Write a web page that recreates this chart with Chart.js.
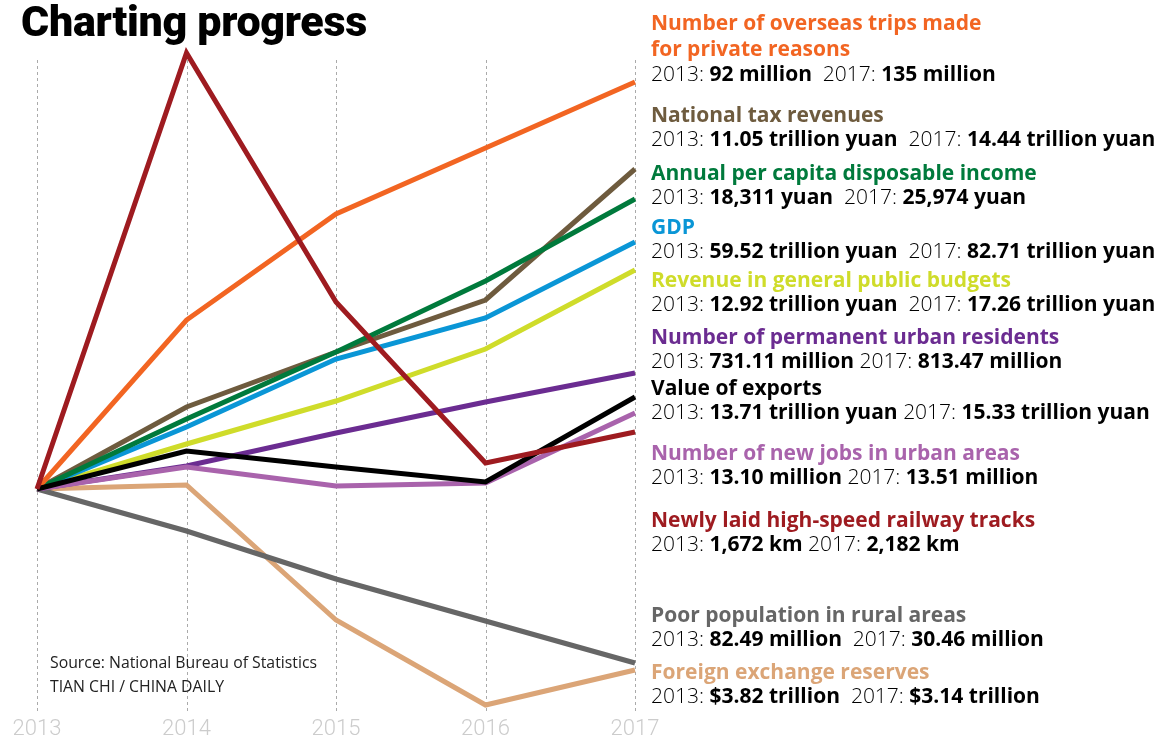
<!DOCTYPE html>
<html>
<head>
<meta charset="utf-8">
<script src="https://cdn.jsdelivr.net/npm/chart.js@4.4.1/dist/chart.umd.min.js"></script>
<style>
  html, body { margin: 0; padding: 0; background: #fff; }
  #wrap { position: relative; width: 1159px; height: 740px; overflow: hidden; font-family: "Open Sans", Roboto, sans-serif; }
  canvas { position: absolute; left: 0; top: 0; }
  .title { position: absolute; left: 21px; top: -4px; font-family: Roboto, sans-serif; font-weight: 900; font-size: 43px; letter-spacing: -0.3px; color: #000; line-height: 50px; }
  .lbl { position: absolute; left: 651px; font-size: 21px; line-height: 24px; white-space: nowrap; font-family: "Open Sans", sans-serif; letter-spacing: 0px; }
  .lbl .h { font-weight: 700; }
  .lbl .v { color: #000; font-weight: 300; }
  .lbl .v b { font-weight: 700; }
  .src { position: absolute; left: 50px; font-size: 15.8px; line-height: 24px; color: #222; font-weight: 400; font-family: "Open Sans", sans-serif; letter-spacing: 0px; }
</style>
</head>
<body>
<div id="wrap">
  <canvas id="c" width="1159" height="740"></canvas>
  <div class="title">Charting progress</div>
  <div id="labels"></div>
  <div class="src" style="top:650px">Source: National Bureau of Statistics</div>
  <div class="src" style="top:674px">TIAN CHI / CHINA DAILY</div>
</div>
<script>
// Categories (years)
const years = ["2013", "2014", "2015", "2016", "2017"];

// Relative change index (2013 = 0 baseline, arbitrary units)
const overseasTrips   = [0, 169, 275, 341, 407];
const taxRevenue      = [0, 82, 137, 189, 320];
const disposableInc   = [0, 70, 137, 208, 290];
const gdp             = [0, 62, 130, 171, 247];
const budgetRevenue   = [0, 45, 88, 140, 219];
const urbanResidents  = [0, 23, 56, 87, 116];
const exportsValue    = [0, 38, 22, 7, 92];
const newJobs         = [0, 22, 3, 6, 76];
const railwayTracks   = [0, 436, 187, 26, 57];
const poorPopulation  = [0, -42, -90, -132, -174];
const forexReserves   = [0, 4, -131, -216, -181];

// Series names, colours and the 2013 / 2017 figures
const seriesNames = [
  "Number of overseas trips made\nfor private reasons",
  "National tax revenues",
  "Annual per capita disposable income",
  "GDP",
  "Revenue in general public budgets",
  "Number of permanent urban residents",
  "Value of exports",
  "Number of new jobs in urban areas",
  "Newly laid high-speed railway tracks",
  "Poor population in rural areas",
  "Foreign exchange reserves"
];
const seriesColors = ["#f26522", "#6e5b3e", "#007a3c", "#0a96d6", "#cfdc2a", "#6b2c91", "#000000", "#a963ac", "#9e1b20", "#666666", "#dba577"];
const values2013 = ["92 million", "11.05 trillion yuan", "18,311 yuan", "59.52 trillion yuan", "12.92 trillion yuan", "731.11 million", "13.71 trillion yuan", "13.10 million", "1,672 km", "82.49 million", "$3.82 trillion"];
const values2017 = ["135 million", "14.44 trillion yuan", "25,974 yuan", "82.71 trillion yuan", "17.26 trillion yuan", "813.47 million", "15.33 trillion yuan", "13.51 million", "2,182 km", "30.46 million", "$3.14 trillion"];
const seriesData = [overseasTrips, taxRevenue, disposableInc, gdp, budgetRevenue, urbanResidents, exportsValue, newJobs, railwayTracks, poorPopulation, forexReserves];

// Label block layout (top of each block, px)
const labelTops = [9, 102, 160, 214, 267, 324, 375, 440, 507, 602, 659];
const doubleGap = [true, true, true, true, true, false, false, false, false, true, true];

const labelsDiv = document.getElementById("labels");
seriesNames.forEach((n, i) => {
  const d = document.createElement("div");
  d.className = "lbl";
  d.style.top = labelTops[i] + "px";
  const h = n.split("\n").map(s => `<div class="h" style="color:${seriesColors[i]};${i===0?'line-height:26px':''}">${s}</div>`).join("");
  d.innerHTML = h + `<div class="v">2013: <b>${values2013[i]}</b>${doubleGap[i] ? '&nbsp; ' : ' '}2017: <b>${values2017[i]}</b></div>`;
  labelsDiv.appendChild(d);
});

// Draw order: the first dataset is painted on top
const drawOrder = [8, 6, 7, 5, 0, 2, 3, 1, 4, 9, 10];

new Chart(document.getElementById("c"), {
  type: "line",
  data: {
    labels: years,
    datasets: seriesNames.map((n, i) => ({
      label: n,
      data: seriesData[i],
      borderColor: seriesColors[i],
      backgroundColor: seriesColors[i],
      borderWidth: 5,
      pointRadius: 0,
      tension: 0,
      fill: false,
      clip: false,
      order: drawOrder.indexOf(i),
      borderCapStyle: "butt",
      borderJoinStyle: "miter"
    }))
  },
  options: {
    responsive: false,
    animation: false,
    devicePixelRatio: 1,
    layout: { padding: { left: 37, right: 524, top: 60, bottom: 0 } },
    plugins: { legend: { display: false }, tooltip: { enabled: false }, title: { display: false } },
    scales: {
      x: {
        offset: false,
        grid: { display: false, drawTicks: false },
        border: { display: false },
        ticks: { color: "#cccccc", font: { family: "Roboto", size: 22, weight: 300 }, padding: 4, maxRotation: 0, autoSkip: false },
        afterFit(scale) { scale.height = 28; }
      },
      y: {
        display: false,
        min: -223,
        max: 429
      }
    }
  },
  plugins: [{
    id: "dashgrid",
    beforeDatasetsDraw(chart) {
      const x = chart.scales.x;
      const ctx = chart.ctx, a = chart.chartArea;
      ctx.save();
      ctx.strokeStyle = "#aaaaaa";
      ctx.lineWidth = 1;
      ctx.setLineDash([3, 3]);
      years.forEach((y, i) => {
        const px = Math.round(x.getPixelForValue(i)) + 0.5;
        ctx.beginPath();
        ctx.moveTo(px, a.top);
        ctx.lineTo(px, a.bottom);
        ctx.stroke();
      });
      ctx.restore();
    }
  }]
});
</script>
</body>
</html>
